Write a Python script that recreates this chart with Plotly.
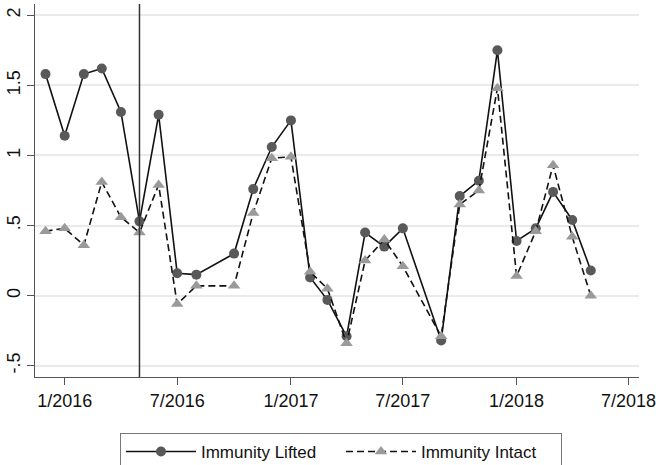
import plotly.graph_objects as go

# Monthly observations (Sep 2016 and Aug 2017 not observed)
months = [
    "2015-12-01", "2016-01-01", "2016-02-01", "2016-03-01", "2016-04-01",
    "2016-05-01", "2016-06-01", "2016-07-01", "2016-08-01", "2016-10-01",
    "2016-11-01", "2016-12-01", "2017-01-01", "2017-02-01", "2017-03-01",
    "2017-04-01", "2017-05-01", "2017-06-01", "2017-07-01", "2017-09-01",
    "2017-10-01", "2017-11-01", "2017-12-01", "2018-01-01", "2018-02-01",
    "2018-03-01", "2018-04-01", "2018-05-01",
]
immunity_lifted = [
    1.58, 1.14, 1.58, 1.62, 1.31,
    0.53, 1.29, 0.16, 0.15, 0.30,
    0.76, 1.06, 1.25, 0.13, -0.03,
    -0.29, 0.45, 0.35, 0.48, -0.32,
    0.71, 0.82, 1.75, 0.39, 0.48,
    0.74, 0.54, 0.18,
]
immunity_intact = [
    0.46, 0.48, 0.36, 0.81, 0.56,
    0.45, 0.79, -0.06, 0.07, 0.07,
    0.59, 0.98, 0.99, 0.17, 0.05,
    -0.34, 0.25, 0.40, 0.21, -0.29,
    0.65, 0.75, 1.48, 0.14, 0.46,
    0.93, 0.42, 0.00,
]
event_date = "2016-05-01"

x_tick_vals = ["2016-01-01", "2016-07-01", "2017-01-01", "2017-07-01", "2018-01-01", "2018-07-01"]
x_tick_text = ["1/2016", "7/2016", "1/2017", "7/2017", "1/2018", "7/2018"]
y_tick_vals = [-0.5, 0, 0.5, 1, 1.5, 2]
y_tick_text = ["-.5", "0", ".5", "1", "1.5", "2"]

FONT = "Liberation Sans, Arial, sans-serif"
AXIS = "#555555"

fig = go.Figure()
fig.add_trace(go.Scatter(
    x=months, y=immunity_lifted, name="Immunity Lifted",
    mode="lines+markers",
    line=dict(color="#111111", width=1.6),
    marker=dict(symbol="circle", size=10, color="#595959"),
))
fig.add_trace(go.Scatter(
    x=months, y=immunity_intact, name="Immunity Intact",
    mode="lines+markers",
    line=dict(color="#111111", width=1.6, dash="7px,4px"),
    marker=dict(symbol="triangle-up", size=11, color="#9a9a9a"),
))

fig.add_shape(
    type="line", xref="x", yref="paper",
    x0=event_date, x1=event_date, y0=0, y1=1,
    line=dict(color="#333333", width=1.5),
    layer="above",
)

fig.update_layout(
    width=656, height=465,
    margin=dict(l=35, r=17, t=4, b=88, autoexpand=False),
    paper_bgcolor="white", plot_bgcolor="white",
    font=dict(family=FONT, size=18, color="#111111"),
    showlegend=True,
    legend=dict(
        orientation="h",
        x=0.1407, xanchor="left",
        y=-0.15, yanchor="top",
        bordercolor="#777777", borderwidth=1,
        bgcolor="white",
        itemwidth=70,
        entrywidth=135,
        font=dict(family=FONT, size=17, color="#111111"),
        traceorder="normal",
    ),
    xaxis=dict(
        type="date",
        range=["2015-11-14", "2018-07-18"],
        tickvals=x_tick_vals, ticktext=x_tick_text,
        ticklabeloverflow="allow",
        ticks="outside", ticklen=7, tickcolor=AXIS, tickwidth=1,
        showline=True, linecolor=AXIS, linewidth=1.2,
        showgrid=False, zeroline=False,
    ),
    yaxis=dict(
        range=[-0.58, 2.08],
        tickvals=y_tick_vals, ticktext=y_tick_text,
        tickangle=-90,
        ticks="outside", ticklen=7, tickcolor=AXIS, tickwidth=1,
        showline=True, linecolor=AXIS, linewidth=1.2,
        showgrid=True, gridcolor="#eaeaea", gridwidth=1.5,
        zeroline=False,
    ),
)

fig.write_html("out.html")
